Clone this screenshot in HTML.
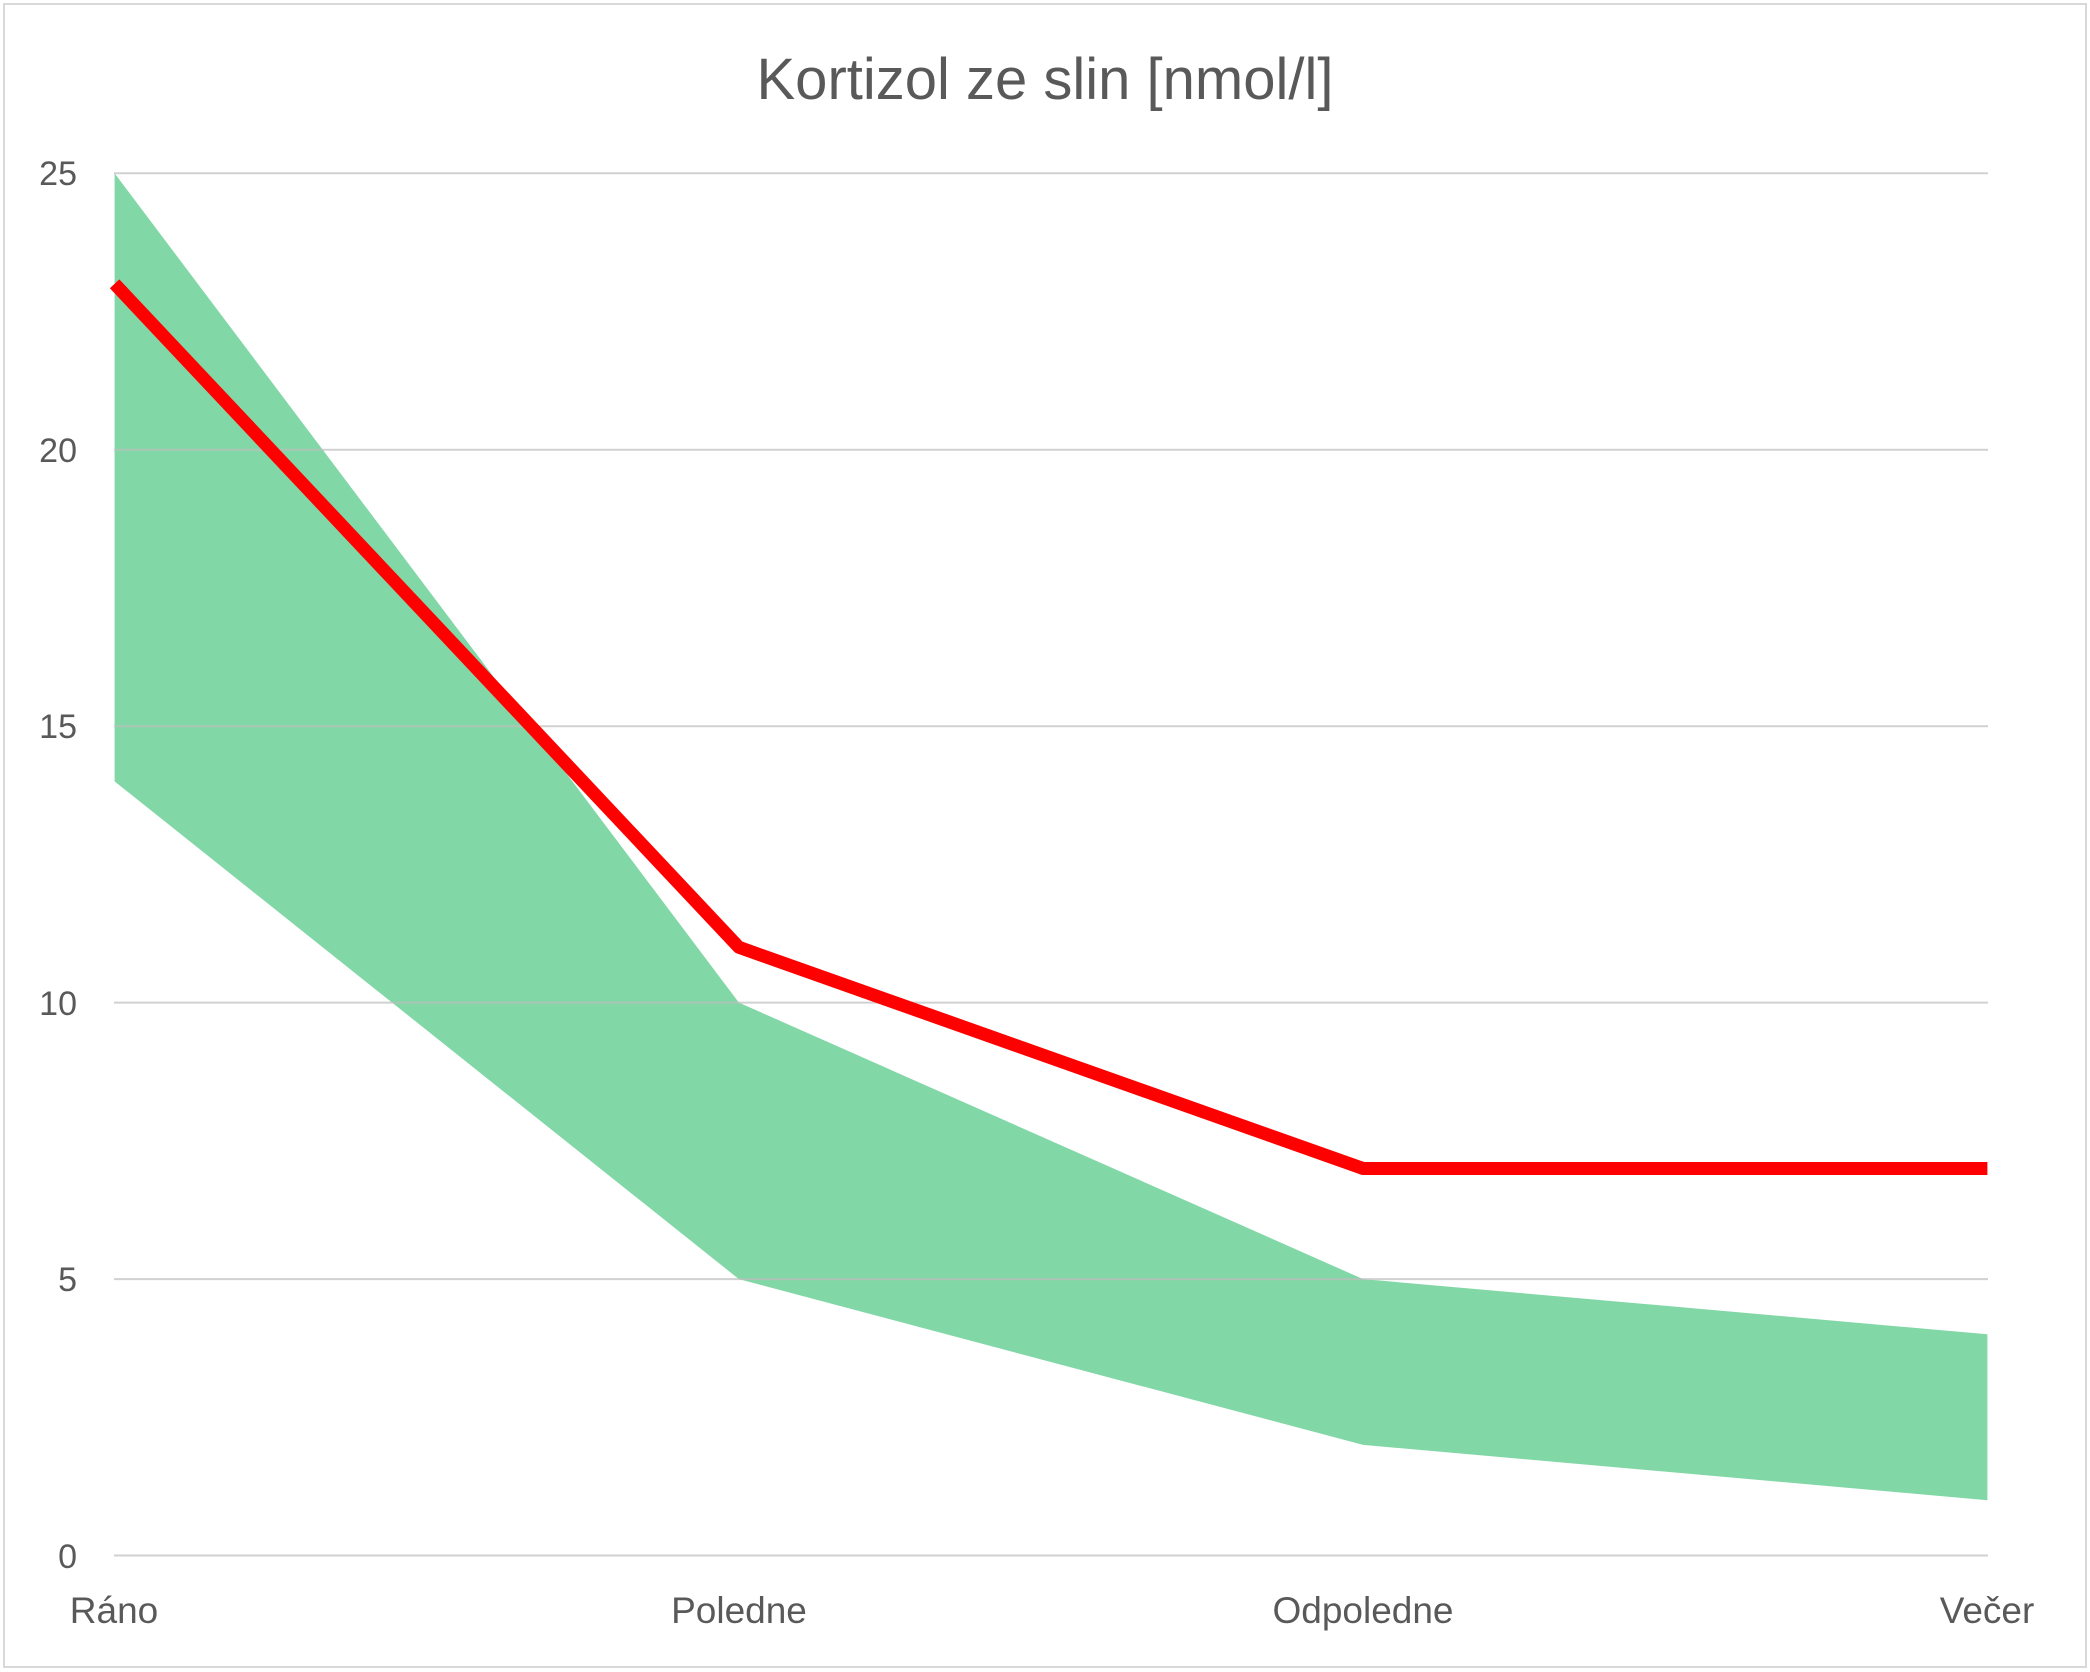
<!DOCTYPE html>
<html><head><meta charset="utf-8"><style>
html,body{margin:0;padding:0;background:#fff;}
svg{display:block;}
</style></head><body>
<svg width="2090" height="1672" viewBox="0 0 2090 1672" xmlns="http://www.w3.org/2000/svg" font-family="'Liberation Sans', sans-serif">
<rect x="0" y="0" width="2090" height="1672" fill="#fff"/>
<rect x="4" y="4" width="2082" height="1663" fill="none" stroke="#d9d9d9" stroke-width="2"/>
<text x="1045" y="99" text-anchor="middle" font-size="58" fill="#595959">Kortizol ze slin [nmol/l]</text>
<polygon fill="#82d7a7" points="114.6,173.3 738.9,1002.6 1363.1,1279.1 1987.4,1334.3 1987.4,1500.2 1363.1,1444.9 738.9,1279.1 114.6,781.4"/>
<g stroke="#bdbdbd" stroke-opacity="0.7" stroke-width="2">
<line x1="114" y1="173.3" x2="1988" y2="173.3"/>
<line x1="114" y1="449.7" x2="1988" y2="449.7"/>
<line x1="114" y1="726.2" x2="1988" y2="726.2"/>
<line x1="114" y1="1002.6" x2="1988" y2="1002.6"/>
<line x1="114" y1="1279.1" x2="1988" y2="1279.1"/>
<line x1="114" y1="1555.5" x2="1988" y2="1555.5"/>
</g>
<polyline fill="none" stroke="#ff0000" stroke-width="13" stroke-linejoin="round" points="114.6,283.8 738.9,947.3 1363.1,1168.5 1987.4,1168.5"/>
<g font-size="34" fill="#595959" text-anchor="end">
<text x="77" y="185">25</text>
<text x="77" y="462">20</text>
<text x="77" y="738">15</text>
<text x="77" y="1015">10</text>
<text x="77" y="1291">5</text>
<text x="77" y="1568">0</text>
</g>
<g font-size="37" fill="#595959" text-anchor="middle">
<text x="114" y="1623">Ráno</text>
<text x="739" y="1623">Poledne</text>
<text x="1363" y="1623">Odpoledne</text>
<text x="1987" y="1623">Večer</text>
</g>
</svg>
</body></html>
